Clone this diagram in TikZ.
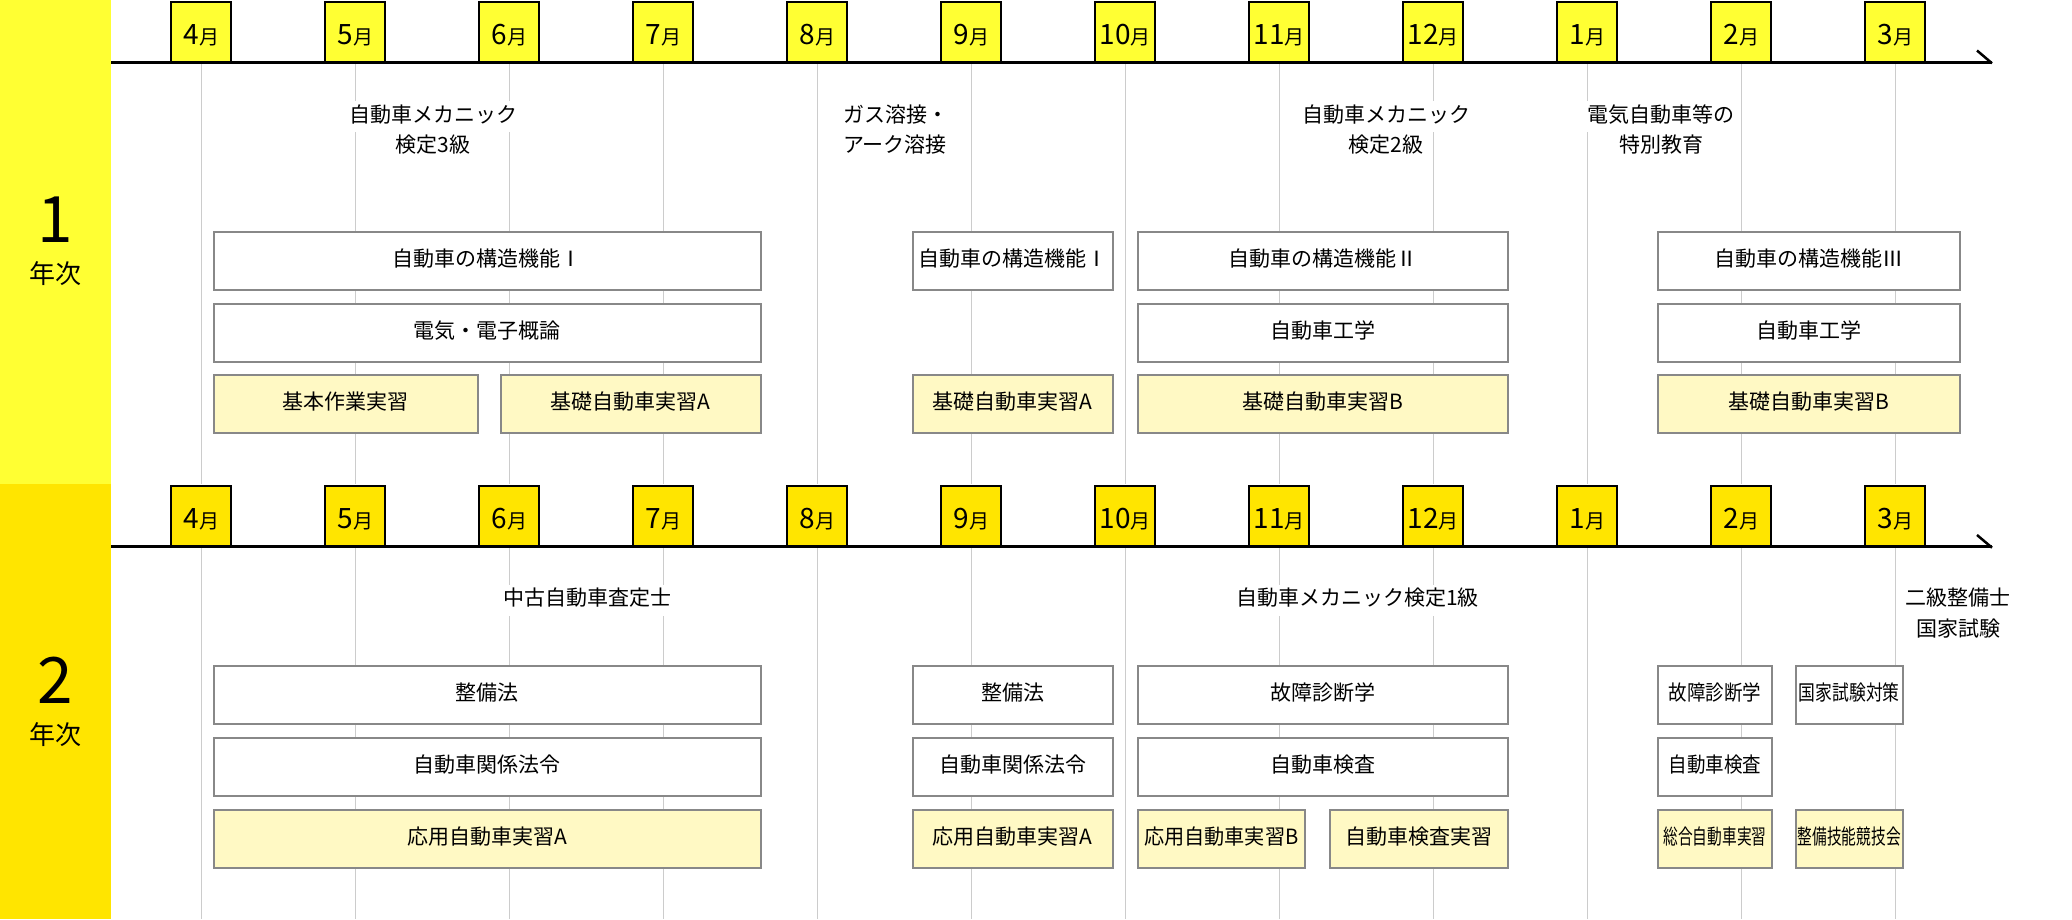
\documentclass[tikz,border=0pt]{standalone}
\usepackage{fontspec}
\setmainfont{Noto Sans CJK JP}
\usepackage{graphicx}
\definecolor{yelA}{HTML}{FFFF33}
\definecolor{yelB}{HTML}{FFE500}
\definecolor{paleY}{HTML}{FFF9C4}
\definecolor{bgray}{HTML}{888888}
\definecolor{lgray}{HTML}{CCCCCC}
\tikzset{
  subj/.style={draw=bgray, line width=2pt, fill=white, minimum height=58pt, inner sep=0pt,
    font=\fontsize{21}{25}\selectfont, text height=16pt, text depth=5pt},
  prac/.style={subj, fill=paleY},
  tabbox/.style={draw=black, line width=2pt, minimum width=60pt, minimum height=60pt, inner sep=0pt,
    text height=25pt, text depth=0pt, anchor=north},
  lbl/.style={fill=white, inner xsep=5pt, inner ysep=5pt, text height=16pt, text depth=5pt,
    font=\fontsize{21}{25}\selectfont},
  gline/.style={draw=lgray, line width=1pt},
  axisline/.style={draw=black, line width=3pt},
  slash/.style={draw=black, line width=2.5pt},
  yearnum/.style={font=\fontsize{64}{64}\selectfont, inner sep=0pt},
  yeartxt/.style={font=\fontsize{26}{26}\selectfont, inner sep=0pt}
}
\newcommand\kbox[6]{\node[#2, anchor=north west, minimum width={#5pt-#3pt-2pt}] (#1) at (#3+1,#4+1) {#6};}
\newcommand\mon[1]{{\fontsize{28}{28}\selectfont #1}{\fontsize{20}{20}\selectfont 月}}
\begin{document}
\begin{tikzpicture}[x=1pt,y=-1pt]
\useasboundingbox (0,0) rectangle (2072,919);
\fill[white] (0,0) rectangle (2072,919);
% year bands
\fill[yelA] (0,0) rectangle (111,484);
\fill[yelB] (0,484) rectangle (111,919);
\node[yearnum] (n1) at (55.5,220) {1};
\node[yeartxt] (n1t) at (55.5,274) {年次};
\node[yearnum] (n2) at (55.5,680) {2};
\node[yeartxt] (n2t) at (55.5,735) {年次};
% grid lines
\foreach \i in {0,...,11}{
  \draw[gline] (201.3+154*\i,62) -- (201.3+154*\i,484);
  \draw[gline] (201.3+154*\i,547) -- (201.3+154*\i,919);
}
% axes
\coordinate (a1s) at (111,62.3);
\coordinate (a1e) at (1992,62.3);
\coordinate (a1k) at (1977,50.5);
\draw[axisline] (a1s) -- (a1e);
\draw[slash] (a1k) -- ([yshift=-1pt]a1e);
\coordinate (a2s) at (111,546.7);
\coordinate (a2e) at (1992,546.7);
\coordinate (a2k) at (1977,535);
\draw[axisline] (a2s) -- (a2e);
\draw[slash] (a2k) -- ([yshift=-1pt]a2e);
% month tabs
\foreach \m [count=\i from 0] in {4,5,6,7,8,9,10,11,12,1,2,3}{
  \node[tabbox, fill=yelA] (tA\i) at (201.3+154*\i,1) {\mon{\m}};
  \node[tabbox, fill=yelB] (tB\i) at (201.3+154*\i,485) {\mon{\m}};
}
% labels year 1
\node[lbl] (l1a) at (433,116.7) {自動車メカニック};
\node[lbl] (l1b) at (433,146.7) {検定3級};
\node[lbl, anchor=west] (l2a) at (838,116.7) {ガス溶接・};
\node[lbl, anchor=west] (l2b) at (838,146.7) {アーク溶接};
\node[lbl] (l3a) at (1386,116.7) {自動車メカニック};
\node[lbl] (l3b) at (1386,146.7) {検定2級};
\node[lbl] (l4a) at (1661,116.7) {電気自動車等の};
\node[lbl] (l4b) at (1661,146.7) {特別教育};
% labels year 2
\node[lbl] (m1) at (587.5,600) {中古自動車査定士};
\node[lbl] (m2) at (1357.5,600) {自動車メカニック検定1級};
\node[lbl] (m3a) at (1958,600) {二級整備士};
\node[lbl] (m3b) at (1958,630.7) {国家試験};
% boxes year 1
\kbox{y1a}{subj}{211.5}{230}{760.5}{自動車の構造機能Ⅰ}
\kbox{y1b}{subj}{211.5}{301.5}{760.5}{電気・電子概論}
\kbox{y1c}{prac}{211.5}{372.5}{478}{基本作業実習}
\kbox{y1d}{prac}{499}{372.5}{760.5}{基礎自動車実習A}
\kbox{y1e}{subj}{910.5}{230}{1113}{自動車の構造機能Ⅰ}
\kbox{y1f}{prac}{910.5}{372.5}{1113}{基礎自動車実習A}
\kbox{y1g}{subj}{1135.5}{230}{1508}{自動車の構造機能Ⅱ}
\kbox{y1h}{subj}{1135.5}{301.5}{1508}{自動車工学}
\kbox{y1i}{prac}{1135.5}{372.5}{1508}{基礎自動車実習B}
\kbox{y1j}{subj}{1656}{230}{1959.5}{自動車の構造機能Ⅲ}
\kbox{y1k}{subj}{1656}{301.5}{1959.5}{自動車工学}
\kbox{y1l}{prac}{1656}{372.5}{1959.5}{基礎自動車実習B}
% boxes year 2
\kbox{y2a}{subj}{211.5}{663.5}{760.5}{整備法}
\kbox{y2b}{subj}{211.5}{735.5}{760.5}{自動車関係法令}
\kbox{y2c}{prac}{211.5}{807.5}{760.5}{応用自動車実習A}
\kbox{y2d}{subj}{910.5}{663.5}{1113}{整備法}
\kbox{y2e}{subj}{910.5}{735.5}{1113}{自動車関係法令}
\kbox{y2f}{prac}{910.5}{807.5}{1113}{応用自動車実習A}
\kbox{y2g}{subj}{1135.5}{663.5}{1508}{故障診断学}
\kbox{y2h}{subj}{1135.5}{735.5}{1508}{自動車検査}
\kbox{y2i}{prac}{1135.5}{807.5}{1305}{\scalebox{0.96}[1]{応用自動車実習B}}
\kbox{y2j}{prac}{1327.5}{807.5}{1508}{自動車検査実習}
\kbox{y2k}{subj}{1656}{663.5}{1772}{\scalebox{0.88}[1]{故障診断学}}
\kbox{y2l}{subj}{1793.5}{663.5}{1903}{\scalebox{0.8}[1]{国家試験対策}}
\kbox{y2m}{subj}{1656}{735.5}{1772}{\scalebox{0.88}[1]{自動車検査}}
\kbox{y2n}{prac}{1656}{807.5}{1772}{\scalebox{0.7}[1]{総合自動車実習}}
\kbox{y2o}{prac}{1793.5}{807.5}{1903}{\scalebox{0.7}[1]{整備技能競技会}}
\end{tikzpicture}
\end{document}
